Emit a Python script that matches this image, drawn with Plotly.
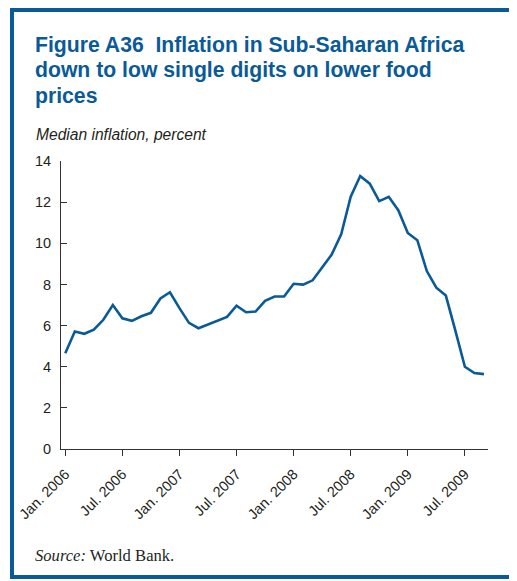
import plotly.graph_objects as go

# ---- data ----
months = [f"{m}. {y}" for y in (2006, 2007, 2008, 2009)
          for m in ("Jan", "Feb", "Mar", "Apr", "May", "Jun", "Jul", "Aug", "Sep", "Oct", "Nov", "Dec")][:45]
inflation = [4.65, 5.71, 5.60, 5.80, 6.28, 7.00, 6.35, 6.23, 6.45, 6.62, 7.32, 7.62,
             6.85, 6.13, 5.87, 6.05, 6.25, 6.42, 6.97, 6.65, 6.68, 7.20, 7.41, 7.41,
             8.03, 7.99, 8.20, 8.80, 9.45, 10.44, 12.26, 13.27, 12.90, 12.05, 12.26, 11.61,
             10.50, 10.15, 8.65, 7.84, 7.46, 5.75, 4.00, 3.69, 3.64]
tick_labels = ["Jan. 2006", "Jul. 2006", "Jan. 2007", "Jul. 2007",
               "Jan. 2008", "Jul. 2008", "Jan. 2009", "Jul. 2009"]
y_ticks = [0, 2, 4, 6, 8, 10, 12, 14]

title_lines = ["Figure A36\u00a0 Inflation in Sub-Saharan Africa",
               "down to low single digits on lower food",
               "prices"]
subtitle_text = "Median inflation, percent"
source_text = "<i>Source:</i> World Bank."

BLUE = "#0b5a98"
DARK = "#231f20"

# page body has an 8px margin, so the figure is sized to fill the rest
W, H = 509, 573
L, R, T, B = 53, 29, 153, 132
PW, PH = W - L - R, H - T - B


def px(x):
    return (x - L) / PW


def py(y):
    return (H - B - y) / PH


fig = go.Figure()
fig.add_trace(go.Scatter(x=months, y=inflation, mode="lines",
                         line=dict(color=BLUE, width=2.6), hoverinfo="skip",
                         showlegend=False))

annotations = []
for i, line in enumerate(title_lines):
    annotations.append(dict(
        text="<b>" + line + "</b>", xref="paper", yref="paper",
        x=px(25), y=py(22.5 + 25.7 * i), xanchor="left", yanchor="top",
        align="left", showarrow=False,
        font=dict(size=21.2, color=BLUE, family="Liberation Sans, Arial")))
annotations.append(dict(
    text="<i>" + subtitle_text + "</i>", xref="paper", yref="paper",
    x=px(25.5), y=py(116), xanchor="left", yanchor="top", align="left",
    showarrow=False,
    font=dict(size=15.6, color=DARK, family="Liberation Sans, Arial")))
annotations.append(dict(
    text=source_text, xref="paper", yref="paper",
    x=px(25), y=py(536), xanchor="left", yanchor="top", align="left",
    showarrow=False,
    font=dict(size=16.6, color=DARK, family="Liberation Serif, Times New Roman")))

fig.update_layout(
    width=W, height=H,
    margin=dict(l=L, r=R, t=T, b=B, autoexpand=False),
    paper_bgcolor="white", plot_bgcolor="white",
    font=dict(family="Liberation Sans, Arial", color=DARK),
    xaxis=dict(type="category", range=[-0.45, 44.43], automargin=False,
               tickvals=tick_labels, ticktext=tick_labels, tickangle=-45,
               showline=True, linecolor="#333333", linewidth=1,
               ticks="outside", ticklen=6, tickcolor="#333333", tickwidth=1,
               showgrid=False, zeroline=False, ticklabelstandoff=4,
               tickfont=dict(size=14.5, color=DARK)),
    yaxis=dict(range=[0, 14], tickvals=y_ticks, automargin=False,
               showline=True, linecolor="#333333", linewidth=1,
               ticks="inside", ticklen=6, tickcolor="#333333", tickwidth=1,
               showgrid=False, zeroline=False,
               tickfont=dict(size=14.5, color=DARK), ticklabelstandoff=6),
    shapes=[dict(type="rect", xref="paper", yref="paper",
                 x0=px(4), x1=px(504), y0=py(2), y1=py(569),
                 line=dict(color=BLUE, width=4), fillcolor="rgba(0,0,0,0)",
                 layer="below")],
    annotations=annotations,
)

fig.write_html("out.html")
